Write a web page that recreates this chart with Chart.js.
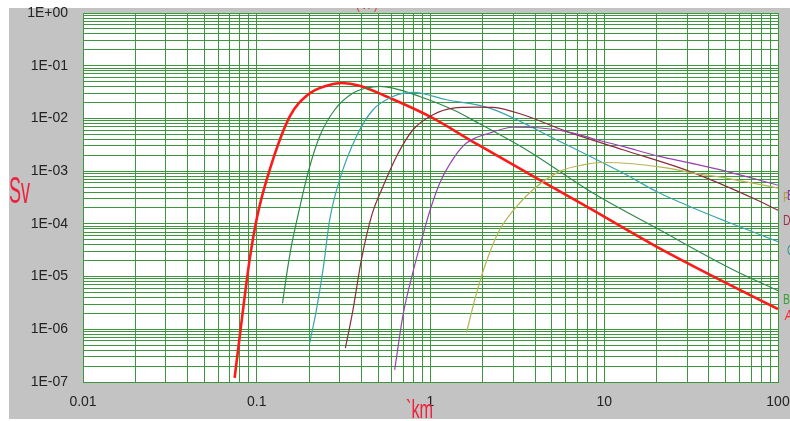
<!DOCTYPE html>
<html>
<head>
<meta charset="utf-8">
<script src="https://cdn.jsdelivr.net/npm/chart.js@4"></script>
<style>
  body { margin: 0; background: #fff; }
  #wrap { position: relative; width: 790px; height: 421px; overflow: hidden; }
  .lbl {
    position: absolute;
    font-family: 'Liberation Sans', Arial, sans-serif;
    white-space: nowrap;
    line-height: 1;
    transform-origin: 0 0;
  }
  #topclip { position: absolute; left: 340px; top: 8px; width: 60px; height: 4px; overflow: hidden; }
</style>
</head>
<body>
<div id="wrap">
  <canvas id="myChart" width="790" height="421"></canvas>
  <div id="topclip"><div class="lbl" style="left:16px;top:-9px;font-size:12px;color:#d04040">( л )</div></div>
  <div class="lbl" style="left:9px;top:173px;font-size:36px;color:#f0203c;transform:scaleX(0.5)">Sv</div>
  <div class="lbl" style="left:406px;top:397px;font-size:25px;color:#f0203c;transform:scaleX(0.65)">`km</div>
  <div class="lbl" style="left:783px;top:190px;font-size:14px;color:#b0a040;transform:scaleX(0.75)">F</div>
  <div class="lbl" style="left:787px;top:188px;font-size:14px;color:#8a30b0;transform:scaleX(0.75)">E</div>
  <div class="lbl" style="left:783px;top:213px;font-size:14px;color:#9a3048;transform:scaleX(0.75)">D</div>
  <div class="lbl" style="left:787px;top:243px;font-size:14px;color:#3a9a9a;transform:scaleX(0.75)">C</div>
  <div class="lbl" style="left:783px;top:292px;font-size:14px;color:#3c9a3c;transform:scaleX(0.75)">B</div>
  <div class="lbl" style="left:785px;top:308px;font-size:14px;color:#ff2020;font-style:italic;transform:scaleX(0.75)">A</div>
</div>
<script>
// axis decades and their labels
const xDecades = [0.01, 0.1, 1, 10, 100];
const xTickLabels = ['0.01', '0.1', '1', '10', '100'];
const yDecades = [1e-7, 1e-6, 1e-5, 1e-4, 1e-3, 1e-2, 1e-1, 1];
const yTickLabels = ['1E-07', '1E-06', '1E-05', '1E-04', '1E-03', '1E-02', '1E-01', '1E+00'];
const minorSteps = [1, 2, 3, 4, 5, 6, 7, 8, 9];

// curve A
const aX = [0.0746, 0.0798, 0.091, 0.1008, 0.1187, 0.155, 0.197, 0.252, 0.307, 0.391, 0.557, 0.989, 1.876, 4.07, 7.89, 19.95, 48.2, 100];
const aY = [1.2e-7, 7.3e-7, 2.1e-5, 1.43e-4, 1.06e-3, 1.09e-2, 2.82e-2, 4.18e-2, 4.7e-2, 4.18e-2, 2.61e-2, 1.09e-2, 3.17e-3, 7.4e-4, 2.14e-4, 3.7e-5, 8.1e-6, 2.42e-6];
// curve B
const bX = [0.1406, 0.148, 0.158, 0.1705, 0.197, 0.23, 0.281, 0.358, 0.428, 0.51, 0.608, 0.867, 1.348, 1.92, 3.56, 8.61, 20.8, 55.1, 100];
const bY = [3.1e-6, 1.0e-5, 3.7e-5, 1.2e-4, 9.2e-4, 4.55e-3, 1.46e-2, 3.03e-2, 3.77e-2, 4.05e-2, 3.77e-2, 2.61e-2, 1.46e-2, 7.9e-3, 2.55e-3, 3.84e-4, 7.7e-5, 1.35e-5, 5.4e-6];
// curve C
const cX = [0.2017, 0.2205, 0.2407, 0.263, 0.30, 0.3746, 0.467, 0.608, 0.793, 1.234, 2.19, 5.30, 12.8, 20.8, 31, 50.5, 100];
const cY = [5.5e-7, 2.34e-6, 1.35e-5, 1.2e-4, 6.9e-4, 4.55e-3, 1.46e-2, 2.61e-2, 3.11e-2, 2.26e-2, 1.57e-2, 3.94e-3, 9.2e-4, 3.84e-4, 2.14e-4, 1.11e-4, 4.6e-5];
// curve D
const dX = [0.3236, 0.358, 0.40, 0.462, 0.533, 0.637, 0.793, 1.034, 1.348, 1.82, 2.29, 3.41, 6.05, 12.8, 31.0, 75.1, 100];
const dY = [4.4e-7, 2.34e-6, 2.08e-5, 1.56e-4, 5.1e-4, 1.9e-3, 6.1e-3, 1.175e-2, 1.57e-2, 1.645e-2, 1.62e-2, 1.175e-2, 5.67e-3, 2.55e-3, 9.9e-4, 2.87e-4, 1.81e-4];
// curve E
const eX = [0.622, 0.695, 0.793, 0.905, 0.996, 1.13, 1.38, 1.61, 2.19, 2.98, 4.14, 6.61, 8.61, 12.8, 20.8, 31, 50.5, 100];
const eY = [1.7e-7, 1.88e-6, 1.23e-5, 6.2e-5, 1.85e-4, 5.9e-4, 1.9e-3, 3.41e-3, 5.28e-3, 6.8e-3, 6.66e-3, 5.28e-3, 4.12e-3, 2.94e-3, 1.9e-3, 1.43e-3, 9.9e-4, 5.4e-4];
// curve F
const fX = [1.61, 1.84, 2.10, 2.50, 2.91, 3.89, 5.54, 7.55, 9.84, 14.6, 22.8, 32.4, 50.5, 100];
const fY = [8.6e-7, 4.86e-6, 1.95e-5, 7.7e-5, 1.59e-4, 4.44e-4, 9.9e-4, 1.32e-3, 1.46e-3, 1.38e-3, 1.15e-3, 9.2e-4, 7.4e-4, 4.78e-4];

const gridGreen = '#3d973d';
const tickFont = "'Liberation Sans', Arial, sans-serif";

function zip(xs, ys) {
    return xs.map((x, i) => ({ x: x, y: ys[i] }));
}

function allTicks(decades) {
    const ticks = [];
    decades.forEach((d, i) => {
        if (i === decades.length - 1) {
            ticks.push(d);
        } else {
            minorSteps.forEach(m => ticks.push(d * m));
        }
    });
    return ticks;
}

function decadeLabel(value, decades, labels) {
    const i = decades.findIndex(d => Math.abs(value / d - 1) < 1e-6);
    return i >= 0 ? labels[i] : '';
}

function curve(label, xs, ys, color, width) {
    return {
        label: label,
        data: zip(xs, ys),
        borderColor: color,
        backgroundColor: color,
        borderWidth: width,
        pointRadius: 0,
        cubicInterpolationMode: 'monotone',
        fill: false
    };
}

const backdrop = {
    id: 'backdrop',
    beforeDraw(chart) {
        const ctx = chart.ctx;
        const a = chart.chartArea;
        ctx.save();
        ctx.fillStyle = '#ffffff';
        ctx.fillRect(0, 0, chart.width, chart.height);
        ctx.fillStyle = '#c3c3c3';
        ctx.fillRect(9, 8, chart.width - 9, chart.height - 10);
        ctx.fillStyle = '#ffffff';
        ctx.fillRect(a.left, a.top, a.right - a.left, a.bottom - a.top);
        ctx.restore();
    }
};

const ctx = document.getElementById('myChart').getContext('2d');
const chart = new Chart(ctx, {
    type: 'line',
    data: {
        datasets: [
            curve('F', fX, fY, '#bab255', 1.2),
            curve('E', eX, eY, '#9a42b2', 1.2),
            curve('D', dX, dY, '#8a2c3c', 1.2),
            curve('C', cX, cY, '#38a4ae', 1.2),
            curve('B', bX, bY, '#2f8a4c', 1.2),
            curve('A', aX, aY, '#ff1a1a', 2.6)
        ]
    },
    options: {
        responsive: false,
        animation: false,
        layout: { padding: { top: 13, right: 12, left: 0, bottom: 0 } },
        plugins: {
            legend: { display: false },
            tooltip: { enabled: false }
        },
        scales: {
            x: {
                type: 'logarithmic',
                min: 0.01,
                max: 100,
                afterBuildTicks: axis => { axis.ticks = allTicks(xDecades).map(v => ({ value: v })); },
                afterFit: axis => {
                    axis.height = 39;
                    axis.paddingLeft = 0;
                    axis.paddingRight = 0;
                },
                grid: { color: gridGreen, lineWidth: 1, drawTicks: false },
                border: { color: gridGreen, width: 1 },
                ticks: {
                    autoSkip: false,
                    maxRotation: 0,
                    padding: 12,
                    color: '#222',
                    font: { family: tickFont, size: 14 },
                    callback: value => decadeLabel(value, xDecades, xTickLabels)
                }
            },
            y: {
                type: 'logarithmic',
                min: 1e-7,
                max: 1,
                afterBuildTicks: axis => { axis.ticks = allTicks(yDecades).map(v => ({ value: v })); },
                afterFit: axis => {
                    axis.width = 83;
                    axis.paddingTop = 0;
                    axis.paddingBottom = 0;
                },
                grid: { color: gridGreen, lineWidth: 1, drawTicks: false },
                border: { color: gridGreen, width: 1 },
                ticks: {
                    autoSkip: false,
                    padding: 15,
                    color: '#222',
                    font: { family: tickFont, size: 14 },
                    callback: value => decadeLabel(value, yDecades, yTickLabels)
                }
            }
        }
    },
    plugins: [backdrop]
});
</script>
</body>
</html>
